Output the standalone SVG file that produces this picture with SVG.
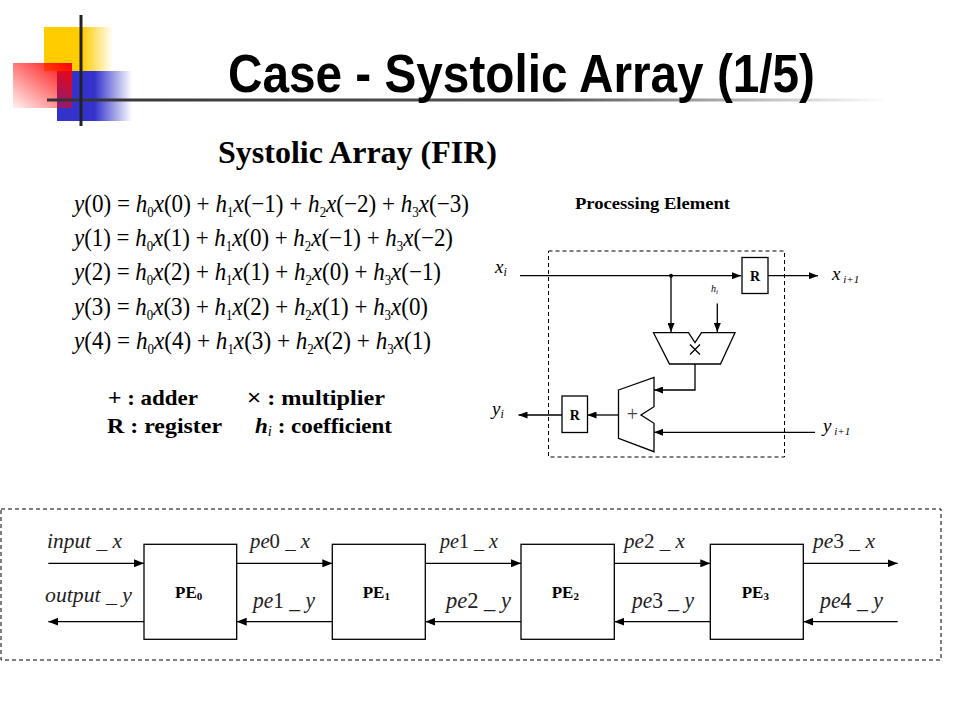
<svg xmlns="http://www.w3.org/2000/svg" width="960" height="720" viewBox="0 0 960 720">
<defs>
<linearGradient id="gY" x1="0" y1="0" x2="1" y2="0"><stop offset="0" stop-color="#FFCC00"/><stop offset="0.55" stop-color="#FFCC00"/><stop offset="1" stop-color="#FFCC00" stop-opacity="0"/></linearGradient>
<linearGradient id="gB" x1="0" y1="0" x2="1" y2="0"><stop offset="0" stop-color="#3333CC"/><stop offset="0.5" stop-color="#3333CC"/><stop offset="1" stop-color="#3333CC" stop-opacity="0"/></linearGradient>
<linearGradient id="gR" x1="1" y1="0" x2="0" y2="1"><stop offset="0" stop-color="#FF0000"/><stop offset="1" stop-color="#FF0000" stop-opacity="0.05"/></linearGradient>
<linearGradient id="gL" x1="0" y1="0" x2="1" y2="0"><stop offset="0" stop-color="#333333"/><stop offset="0.6" stop-color="#555555"/><stop offset="1" stop-color="#555555" stop-opacity="0"/></linearGradient>
<marker id="arr" markerUnits="userSpaceOnUse" markerWidth="10" markerHeight="8" refX="10" refY="4" orient="auto"><path d="M0,0 L10,4 L0,8 z" fill="#000"/></marker>
<marker id="arrS" markerUnits="userSpaceOnUse" markerWidth="9" markerHeight="7" refX="9" refY="3.5" orient="auto"><path d="M0,0 L9,3.5 L0,7 z" fill="#000"/></marker>
<style>
.title{font-family:"Liberation Sans",Arial,sans-serif;font-weight:bold;fill:#000}
.tb{font-family:"Liberation Serif","Times New Roman",serif;font-weight:bold;fill:#000}
.eq{font-family:"Liberation Serif","Times New Roman",serif;font-size:25px;fill:#000}
.i{font-style:italic}
.sb{font-size:14px}
.lbl{font-family:"Liberation Serif","Times New Roman",serif;font-size:22px;fill:#222}
.pel{font-family:"Liberation Serif","Times New Roman",serif;font-size:19px;fill:#000}
.box{fill:#fff;stroke:#000;stroke-width:1.3}
.ln{fill:none;stroke:#000;stroke-width:1.3}
.dash{fill:none;stroke:#000;stroke-width:1;stroke-dasharray:4,3}
</style>
</defs>
<rect width="960" height="720" fill="#fff"/>
<g id="logo">
<rect x="44" y="27" width="69" height="44" fill="url(#gY)"/>
<rect x="57" y="71" width="75" height="50" fill="url(#gB)"/>
<rect x="13" y="63" width="59" height="45" fill="url(#gR)"/>
<rect x="47" y="98.5" width="840" height="3" fill="url(#gL)"/>
<rect x="79.5" y="15" width="3" height="111" fill="#222"/>
</g>
<text class="title" x="228" y="92" font-size="53" textLength="587" lengthAdjust="spacingAndGlyphs">Case - Systolic Array (1/5)</text>
<text class="tb" x="218" y="163" font-size="31" textLength="279" lengthAdjust="spacingAndGlyphs">Systolic Array (FIR)</text>
<g id="equations">
<text class="eq" x="74" y="212" textLength="395" lengthAdjust="spacingAndGlyphs"><tspan class="i">y</tspan>(0) = <tspan class="i">h</tspan><tspan class="sb" dy="5">0</tspan><tspan class="i" dy="-5">x</tspan>(0) + <tspan class="i">h</tspan><tspan class="sb" dy="5">1</tspan><tspan class="i" dy="-5">x</tspan>(−1) + <tspan class="i">h</tspan><tspan class="sb" dy="5">2</tspan><tspan class="i" dy="-5">x</tspan>(−2) + <tspan class="i">h</tspan><tspan class="sb" dy="5">3</tspan><tspan class="i" dy="-5">x</tspan>(−3)</text>
<text class="eq" x="74" y="246" textLength="379" lengthAdjust="spacingAndGlyphs"><tspan class="i">y</tspan>(1) = <tspan class="i">h</tspan><tspan class="sb" dy="5">0</tspan><tspan class="i" dy="-5">x</tspan>(1) + <tspan class="i">h</tspan><tspan class="sb" dy="5">1</tspan><tspan class="i" dy="-5">x</tspan>(0) + <tspan class="i">h</tspan><tspan class="sb" dy="5">2</tspan><tspan class="i" dy="-5">x</tspan>(−1) + <tspan class="i">h</tspan><tspan class="sb" dy="5">3</tspan><tspan class="i" dy="-5">x</tspan>(−2)</text>
<text class="eq" x="74" y="280" textLength="367" lengthAdjust="spacingAndGlyphs"><tspan class="i">y</tspan>(2) = <tspan class="i">h</tspan><tspan class="sb" dy="5">0</tspan><tspan class="i" dy="-5">x</tspan>(2) + <tspan class="i">h</tspan><tspan class="sb" dy="5">1</tspan><tspan class="i" dy="-5">x</tspan>(1) + <tspan class="i">h</tspan><tspan class="sb" dy="5">2</tspan><tspan class="i" dy="-5">x</tspan>(0) + <tspan class="i">h</tspan><tspan class="sb" dy="5">3</tspan><tspan class="i" dy="-5">x</tspan>(−1)</text>
<text class="eq" x="74" y="314.5" textLength="354" lengthAdjust="spacingAndGlyphs"><tspan class="i">y</tspan>(3) = <tspan class="i">h</tspan><tspan class="sb" dy="5">0</tspan><tspan class="i" dy="-5">x</tspan>(3) + <tspan class="i">h</tspan><tspan class="sb" dy="5">1</tspan><tspan class="i" dy="-5">x</tspan>(2) + <tspan class="i">h</tspan><tspan class="sb" dy="5">2</tspan><tspan class="i" dy="-5">x</tspan>(1) + <tspan class="i">h</tspan><tspan class="sb" dy="5">3</tspan><tspan class="i" dy="-5">x</tspan>(0)</text>
<text class="eq" x="74" y="348.5" textLength="357" lengthAdjust="spacingAndGlyphs"><tspan class="i">y</tspan>(4) = <tspan class="i">h</tspan><tspan class="sb" dy="5">0</tspan><tspan class="i" dy="-5">x</tspan>(4) + <tspan class="i">h</tspan><tspan class="sb" dy="5">1</tspan><tspan class="i" dy="-5">x</tspan>(3) + <tspan class="i">h</tspan><tspan class="sb" dy="5">2</tspan><tspan class="i" dy="-5">x</tspan>(2) + <tspan class="i">h</tspan><tspan class="sb" dy="5">3</tspan><tspan class="i" dy="-5">x</tspan>(1)</text>
</g>
<g id="legend">
<text class="tb" x="108" y="405" font-size="22" textLength="90" lengthAdjust="spacingAndGlyphs"><tspan font-family="Liberation Sans, Arial, sans-serif" font-weight="normal">+</tspan> : adder</text>
<text class="tb" x="247" y="405" font-size="22" textLength="138" lengthAdjust="spacingAndGlyphs"><tspan font-family="Liberation Sans, Arial, sans-serif" font-weight="normal">×</tspan> : multiplier</text>
<text class="tb" x="107" y="433" font-size="22" textLength="115" lengthAdjust="spacingAndGlyphs">R : register</text>
<text class="tb" x="255" y="433" font-size="22" textLength="137" lengthAdjust="spacingAndGlyphs"><tspan font-style="italic">h</tspan><tspan font-style="italic" font-weight="normal" font-size="14" dy="3">i</tspan><tspan dy="-3"> : coefficient</tspan></text>
</g>
<text class="tb" x="575" y="209" font-size="16" textLength="155" lengthAdjust="spacingAndGlyphs">Processing Element</text>
<g id="pe-boundary"><rect class="dash" x="548.5" y="251" width="236" height="206"/></g>
<g id="reg-x"><rect class="box" x="742" y="257.5" width="26" height="36"/><text class="tb" x="755" y="281" font-size="14" text-anchor="middle">R</text></g>
<g id="multiplier"><path class="box" d="M653.5,332.7 L688.5,332.7 L695,342.5 L701.5,332.7 L735,332.7 L720.5,364 L669.5,364 Z"/><path class="ln" d="M690,344.5 L700,354.5 M700,344.5 L690,354.5" stroke-width="1.6"/></g>
<g id="adder"><path class="box" d="M618.5,390 L654,377.3 L654,406.7 L641,415 L654,423.3 L654,451.7 L618.5,438.3 Z"/><text x="632.5" y="421" font-family="Liberation Serif, Times New Roman, serif" font-size="20" fill="#444" text-anchor="middle">+</text></g>
<g id="reg-y"><rect class="box" x="562" y="396" width="25.5" height="36.5"/><text class="tb" x="574.8" y="420" font-size="14" text-anchor="middle">R</text></g>
<g id="pe-labels" class="pel" font-style="italic">
<text x="495" y="273">x<tspan font-size="12" dy="3">i</tspan></text>
<text x="832" y="280">x<tspan font-size="11" dy="3"> i+1</tspan></text>
<text x="711" y="292" font-size="10">h<tspan font-size="7" dy="2">i</tspan></text>
<text x="492" y="415">y<tspan font-size="12" dy="3">i</tspan></text>
<text x="823" y="432">y<tspan font-size="11" dy="3"> i+1</tspan></text>
</g>
<g id="connectors">
<path class="ln" d="M520,275.7 H741" marker-end="url(#arrS)"/>
<circle cx="671" cy="275.7" r="2" fill="#000"/>
<path class="ln" d="M671,275.7 V332" marker-end="url(#arrS)"/>
<path class="ln" d="M717.3,303.5 V332" marker-end="url(#arrS)"/>
<path class="ln" d="M768,275.7 H818" marker-end="url(#arrS)"/>
<path class="ln" d="M695,364 V390 H654" marker-end="url(#arrS)"/>
<path class="ln" d="M815,432.3 H654" marker-end="url(#arrS)"/>
<path class="ln" d="M618.5,415 H587.5" marker-end="url(#arrS)"/>
<path class="ln" d="M562,415 H518.5" marker-end="url(#arrS)"/>
<path class="ln" d="M48.3,563.3 H144" marker-end="url(#arr)"/>
<path class="ln" d="M236.7,563.3 H332.3" marker-end="url(#arr)"/>
<path class="ln" d="M425.3,563.3 H521" marker-end="url(#arr)"/>
<path class="ln" d="M614.3,563.3 H710.3" marker-end="url(#arr)"/>
<path class="ln" d="M803.3,563.3 H897.7" marker-end="url(#arr)"/>
<path class="ln" d="M144,621.7 H48.3" marker-end="url(#arr)"/>
<path class="ln" d="M332.3,621.7 H236.7" marker-end="url(#arr)"/>
<path class="ln" d="M521,621.7 H425.3" marker-end="url(#arr)"/>
<path class="ln" d="M710.3,621.7 H614.3" marker-end="url(#arr)"/>
<path class="ln" d="M897.7,621.7 H803.3" marker-end="url(#arr)"/>
</g>
<g id="array-boundary"><rect class="dash" x="1" y="509" width="940" height="151"/></g>
<g id="pe0"><rect class="box" x="144" y="544.3" width="92.7" height="95"/><text class="tb" x="175" y="598" font-size="17">PE<tspan font-size="11" dy="2">0</tspan></text></g>
<g id="pe1"><rect class="box" x="332.3" y="544.3" width="93" height="95"/><text class="tb" x="362.7" y="598" font-size="17">PE<tspan font-size="11" dy="2">1</tspan></text></g>
<g id="pe2"><rect class="box" x="521" y="544.3" width="93.3" height="95"/><text class="tb" x="551.7" y="598" font-size="17">PE<tspan font-size="11" dy="2">2</tspan></text></g>
<g id="pe3"><rect class="box" x="710.3" y="544.3" width="93" height="95"/><text class="tb" x="741.7" y="598" font-size="17">PE<tspan font-size="11" dy="2">3</tspan></text></g>
<g id="signal-labels" class="lbl">
<text x="47" y="548" textLength="75" lengthAdjust="spacingAndGlyphs"><tspan class="i">input</tspan> _ <tspan class="i">x</tspan></text>
<text x="45" y="602" textLength="87" lengthAdjust="spacingAndGlyphs"><tspan class="i">output</tspan> _ <tspan class="i">y</tspan></text>
<text x="250" y="548" textLength="60" lengthAdjust="spacingAndGlyphs"><tspan class="i">pe</tspan>0 _ <tspan class="i">x</tspan></text>
<text x="440" y="548" textLength="58" lengthAdjust="spacingAndGlyphs"><tspan class="i">pe</tspan>1 _ <tspan class="i">x</tspan></text>
<text x="624" y="548" textLength="61" lengthAdjust="spacingAndGlyphs"><tspan class="i">pe</tspan>2 _ <tspan class="i">x</tspan></text>
<text x="813" y="548" textLength="62" lengthAdjust="spacingAndGlyphs"><tspan class="i">pe</tspan>3 _ <tspan class="i">x</tspan></text>
<text x="253" y="608" font-size="23" textLength="62" lengthAdjust="spacingAndGlyphs"><tspan class="i">pe</tspan>1 _ <tspan class="i">y</tspan></text>
<text x="446" y="608" font-size="23" textLength="65" lengthAdjust="spacingAndGlyphs"><tspan class="i">pe</tspan>2 _ <tspan class="i">y</tspan></text>
<text x="632" y="608" font-size="23" textLength="62" lengthAdjust="spacingAndGlyphs"><tspan class="i">pe</tspan>3 _ <tspan class="i">y</tspan></text>
<text x="820" y="608" font-size="23" textLength="63" lengthAdjust="spacingAndGlyphs"><tspan class="i">pe</tspan>4 _ <tspan class="i">y</tspan></text>
</g>
</svg>
